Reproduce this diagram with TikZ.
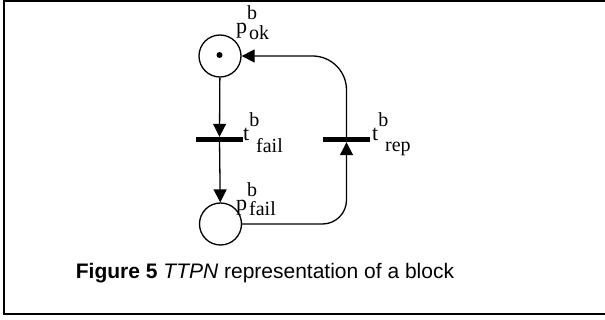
\documentclass[tikz,border=0pt]{standalone}
\usepackage{fontspec}
\setmainfont{Liberation Serif}
\newfontfamily\capfont{Liberation Sans}
\usetikzlibrary{arrows.meta}
\newcommand{\pnlab}[4]{\rlap{{\fontsize{22}{22}\selectfont #1}\raisebox{14pt}{\fontsize{20}{20}\selectfont #2}}\hspace{13pt}\raisebox{-#4pt}{\fontsize{20}{20}\selectfont #3}}
\begin{document}
\begin{tikzpicture}[x=1pt,y=-1pt,
  place/.style={circle,draw,line width=1.3pt,minimum size=42pt,inner sep=0pt},
  trans/.style={rectangle,fill=black,minimum width=47pt,minimum height=5pt,inner sep=0pt},
  arc/.style={line width=1.3pt,-{Triangle[length=13pt,width=13pt]}},
  lbl/.style={anchor=base west,inner sep=0pt}]
\useasboundingbox (0,0) rectangle (605,320);
\draw[line width=2pt] (4.3,1.5) rectangle (620,314);
\node[place] (pok) at (220,56) {};
\fill (219.5,55) circle (3pt);
\node[trans] (tfail) at (219.5,139.5) {};
\node[place] (pfail) at (220.5,224) {};
\node[trans] (trep) at (346.5,139.5) {};
\draw[arc] (pok) -- (tfail.north);
\draw[arc] (tfail) -- (pfail);
\draw[arc,rounded corners=24pt] (pfail.east) -| (trep.south);
\draw[arc,rounded corners=34pt] (trep.north) |- (pok.east);
\node[lbl] (lpok) at (236,34) {\pnlab{p}{b}{ok}{6}};
\node[lbl] (ltfail) at (243,141) {\pnlab{t}{b}{fail}{12}};
\node[lbl] (lpfail) at (236,211) {\pnlab{p}{b}{fail}{5}};
\node[lbl] (ltrep) at (372,141) {\pnlab{t}{b}{rep}{11}};
\node[anchor=base,inner sep=0pt] (cap) at (265,279) {\capfont\fontsize{21}{21}\selectfont\textbf{Figure 5} \textit{TTPN} representation of a block};
\end{tikzpicture}
\end{document}
